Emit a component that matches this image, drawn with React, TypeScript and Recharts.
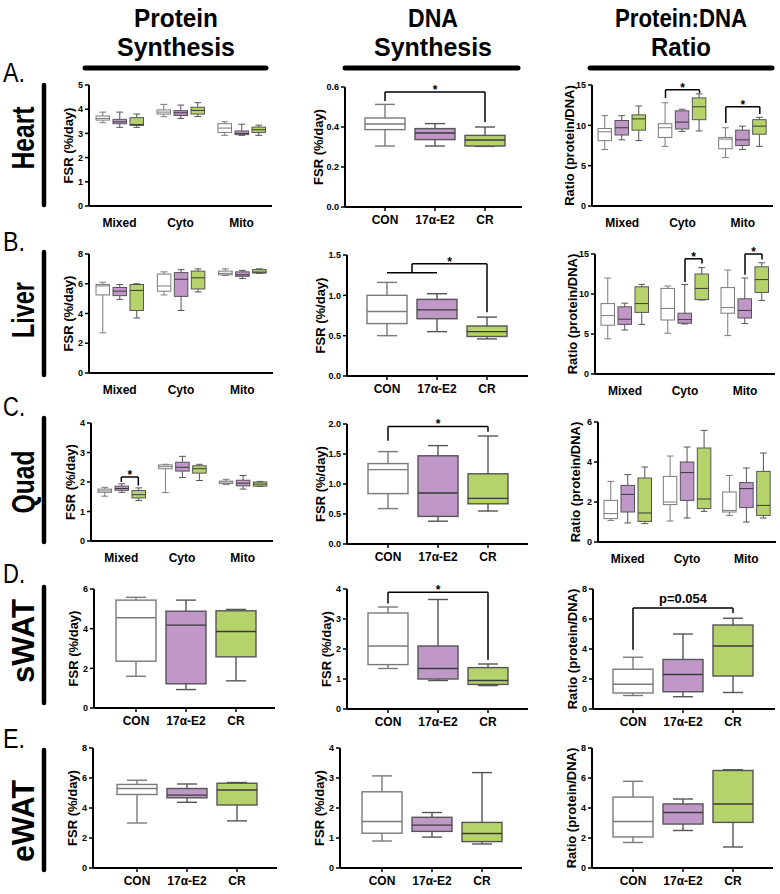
import React from 'react'
import { ComposedChart, Bar, XAxis, YAxis, ReferenceLine, ReferenceDot } from 'recharts'

const groups = ['CON', '17α-E2', 'CR']
const fractions = ['Mixed', 'Cyto', 'Mito']
const groupFill = ['#ffffff', '#bf98c8', '#b6d36b']

// each box: [min, q1, median, q3, max]
// grouped panels: one row per fraction (Mixed, Cyto, Mito), each with CON, 17α-E2, CR
const heartProtein = [
  [[3.44, 3.55, 3.62, 3.72, 3.88], [3.25, 3.4, 3.48, 3.58, 3.88], [3.25, 3.33, 3.37, 3.65, 3.8]],
  [[3.69, 3.8, 3.88, 3.97, 4.2], [3.62, 3.74, 3.85, 3.94, 4.17], [3.7, 3.8, 3.95, 4.08, 4.27]],
  [[2.92, 3.04, 3.22, 3.4, 3.48], [2.92, 2.95, 3.0, 3.1, 3.38], [2.92, 3.04, 3.15, 3.26, 3.34]],
]
const heartDNA = [[0.305, 0.387, 0.415, 0.445, 0.513], [0.305, 0.337, 0.37, 0.392, 0.417], [0.303, 0.305, 0.335, 0.358, 0.4]]
const heartRatio = [
  [[7.0, 8.1, 9.2, 9.6, 11.2], [8.2, 8.8, 9.7, 10.6, 11.2], [8.1, 9.4, 10.8, 11.3, 12.4]],
  [[7.4, 8.5, 9.7, 10.2, 12.8], [9.25, 9.55, 10.4, 11.8, 12.0], [9.3, 10.7, 12.3, 13.4, 13.9]],
  [[6.0, 7.1, 8.3, 8.5, 9.7], [7.0, 7.5, 8.2, 9.4, 9.9], [7.4, 8.9, 9.9, 10.7, 11.0]],
]
const liverProtein = [
  [[2.7, 5.25, 5.85, 5.95, 6.1], [4.95, 5.2, 5.5, 5.75, 5.95], [3.7, 4.2, 5.55, 5.95, 6.0]],
  [[5.25, 5.5, 5.85, 6.65, 6.8], [4.2, 5.15, 6.3, 6.75, 6.95], [5.45, 5.65, 6.4, 6.85, 7.0]],
  [[6.55, 6.6, 6.7, 6.85, 7.0], [6.35, 6.5, 6.6, 6.8, 6.9], [6.7, 6.72, 6.78, 6.95, 7.0]],
]
const liverDNA = [[0.5, 0.65, 0.8, 1.0, 1.16], [0.55, 0.71, 0.82, 0.95, 1.02], [0.46, 0.49, 0.55, 0.62, 0.73]]
const liverRatio = [
  [[4.4, 6.1, 7.3, 8.8, 12.0], [5.5, 6.2, 6.85, 8.4, 8.85], [6.2, 7.7, 8.8, 10.9, 11.2]],
  [[5.1, 6.75, 8.2, 10.7, 11.0], [6.25, 6.35, 6.8, 7.6, 11.2], [9.25, 9.3, 10.7, 12.5, 13.3]],
  [[4.8, 7.6, 8.3, 10.8, 13.0], [6.3, 7.0, 7.95, 9.4, 12.0], [9.2, 10.2, 11.8, 13.4, 13.9]],
]
const quadProtein = [
  [[1.52, 1.65, 1.7, 1.76, 1.82], [1.65, 1.72, 1.78, 1.86, 1.94], [1.37, 1.46, 1.57, 1.71, 1.8]],
  [[1.64, 2.45, 2.52, 2.58, 2.6], [2.15, 2.37, 2.5, 2.67, 2.87], [2.05, 2.3, 2.45, 2.55, 2.6]],
  [[1.91, 1.95, 2.0, 2.03, 2.09], [1.76, 1.87, 1.96, 2.06, 2.22], [1.85, 1.86, 1.93, 2.0, 2.02]],
]
const quadDNA = [[0.59, 0.84, 1.24, 1.34, 1.54], [0.38, 0.46, 0.85, 1.47, 1.64], [0.55, 0.67, 0.76, 1.17, 1.8]]
const quadRatio = [
  [[1.08, 1.17, 1.42, 2.08, 3.03], [0.95, 1.5, 2.38, 2.83, 3.37], [0.92, 1.03, 1.45, 3.2, 3.75]],
  [[1.05, 1.87, 2.0, 3.28, 4.3], [1.2, 2.08, 3.47, 4.0, 4.75], [1.53, 1.67, 2.15, 4.7, 5.58]],
  [[1.33, 1.5, 1.58, 2.5, 3.33], [1.0, 1.72, 2.67, 2.97, 3.7], [1.2, 1.33, 1.83, 3.53, 4.45]],
]
const swatProtein = [[1.6, 2.36, 4.55, 5.44, 5.58], [0.93, 1.22, 4.18, 4.88, 5.44], [1.37, 2.58, 3.86, 4.9, 4.97]]
const swatDNA = [[1.35, 1.48, 2.1, 3.2, 3.4], [0.95, 1.0, 1.35, 2.1, 3.65], [0.78, 0.82, 0.95, 1.38, 1.5]]
const swatRatio = [[0.9, 1.07, 1.65, 2.65, 3.45], [0.82, 1.15, 2.3, 3.3, 5.0], [1.1, 2.2, 4.2, 5.6, 6.05]]
const ewatProtein = [[3.0, 4.9, 5.3, 5.57, 5.85], [4.38, 4.68, 4.86, 5.3, 5.6], [3.14, 4.2, 5.2, 5.65, 5.7]]
const ewatDNA = [[0.9, 1.16, 1.55, 2.54, 3.07], [1.03, 1.22, 1.43, 1.69, 1.85], [0.8, 0.88, 1.15, 1.52, 3.18]]
const ewatRatio = [[1.7, 2.07, 3.1, 4.73, 5.78], [2.5, 2.93, 3.7, 4.27, 4.6], [1.4, 3.04, 4.27, 6.5, 6.55]]

// y ticks
const ticks0to5 = [0, 1, 2, 3, 4, 5]
const ticksHeartDNA = [0, 0.2, 0.4, 0.6]
const ticksRatio15 = [0, 5, 10, 15]
const ticks0to8 = [0, 2, 4, 6, 8]
const ticksLiverDNA = [0, 0.5, 1.0, 1.5]
const ticks0to4 = [0, 1, 2, 3, 4]
const ticksQuadDNA = [0, 0.5, 1.0, 1.5, 2.0]
const ticks0to6 = [0, 2, 4, 6]

// significance brackets: f = category/fraction index, g = group inside a fraction
type Pt = { f: number; g?: number; y: number }
type Bracket = { lines: Pt[][]; label: string; at: Pt }
const heartDNABr: Bracket[] = [
  { lines: [[{ f: 0, y: 0.53 }, { f: 0, y: 0.575 }, { f: 2, y: 0.575 }, { f: 2, y: 0.425 }]], label: '*', at: { f: 1, y: 0.575 } },
]
const heartRatioBr: Bracket[] = [
  { lines: [[{ f: 1, g: 0, y: 13.4 }, { f: 1, g: 0, y: 14.4 }, { f: 1, g: 2, y: 14.4 }, { f: 1, g: 2, y: 14.0 }]], label: '*', at: { f: 1, g: 1, y: 14.4 } },
  { lines: [[{ f: 2, g: 0, y: 10.3 }, { f: 2, g: 0, y: 12.3 }, { f: 2, g: 2, y: 12.3 }, { f: 2, g: 2, y: 11.4 }]], label: '*', at: { f: 2, g: 1, y: 12.3 } },
]
const liverDNABr: Bracket[] = [
  {
    lines: [
      [{ f: 0, y: 1.28 }, { f: 1, y: 1.28 }],
      [{ f: 0.5, y: 1.28 }, { f: 0.5, y: 1.39 }, { f: 2, y: 1.39 }, { f: 2, y: 0.79 }],
    ],
    label: '*',
    at: { f: 1.25, y: 1.39 },
  },
]
const liverRatioBr: Bracket[] = [
  { lines: [[{ f: 1, g: 1, y: 11.5 }, { f: 1, g: 1, y: 14.4 }, { f: 1, g: 2, y: 14.4 }, { f: 1, g: 2, y: 13.8 }]], label: '*', at: { f: 1, g: 1.5, y: 14.4 } },
  { lines: [[{ f: 2, g: 1, y: 12.4 }, { f: 2, g: 1, y: 15 }, { f: 2, g: 2, y: 15 }, { f: 2, g: 2, y: 14.3 }]], label: '*', at: { f: 2, g: 1.5, y: 15 } },
]
const quadProteinBr: Bracket[] = [
  { lines: [[{ f: 0, g: 1, y: 2.0 }, { f: 0, g: 1, y: 2.17 }, { f: 0, g: 2, y: 2.17 }, { f: 0, g: 2, y: 1.88 }]], label: '*', at: { f: 0, g: 1.5, y: 2.17 } },
]
const quadDNABr: Bracket[] = [
  { lines: [[{ f: 0, y: 1.72 }, { f: 0, y: 1.96 }, { f: 2, y: 1.96 }, { f: 2, y: 1.87 }]], label: '*', at: { f: 1, y: 1.96 } },
]
const swatDNABr: Bracket[] = [
  { lines: [[{ f: 0, y: 3.52 }, { f: 0, y: 3.89 }, { f: 2, y: 3.89 }, { f: 2, y: 1.64 }]], label: '*', at: { f: 1, y: 3.89 } },
]
const swatRatioBr: Bracket[] = [
  { lines: [[{ f: 0, y: 3.95 }, { f: 0, y: 6.73 }, { f: 2, y: 6.73 }, { f: 2, y: 6.4 }]], label: 'p=0.054', at: { f: 1, y: 6.73 } },
]

const AX = "'Liberation Sans', Arial, sans-serif"
const NARROW = "'Liberation Sans Narrow', 'Arial Narrow', 'Liberation Sans', Arial, sans-serif"

const Y_W = 46
const TOP_M = 12
const X_H = 30
const GBAR = 13.5
const GGAP = 3.5

function boxShape(getBox: (p: any) => number[], getColor: (p: any) => number, capRatio: number, lw: number) {
  return (props: any) => {
    const { x, y, width, height, payload } = props
    const b = getBox(payload)
    const ci = getColor(payload)
    const py = (v: number) => y + ((b[4] - v) / (b[4] - b[0])) * height
    const cx = x + width / 2
    const cap = (width * capRatio) / 2
    const stroke = ci === 0 ? '#7a7a7a' : '#555'
    const med = ci === 0 ? '#7a7a7a' : '#3a3a3a'
    return (
      <g>
        <line x1={cx} x2={cx} y1={py(b[4])} y2={py(b[3])} stroke={stroke} strokeWidth={lw} />
        <line x1={cx} x2={cx} y1={py(b[1])} y2={py(b[0])} stroke={stroke} strokeWidth={lw} />
        <line x1={cx - cap} x2={cx + cap} y1={py(b[4])} y2={py(b[4])} stroke={stroke} strokeWidth={lw} />
        <line x1={cx - cap} x2={cx + cap} y1={py(b[0])} y2={py(b[0])} stroke={stroke} strokeWidth={lw} />
        <rect x={x} y={py(b[3])} width={width} height={py(b[1]) - py(b[3])} fill={groupFill[ci]} stroke={stroke} strokeWidth={lw} />
        <line x1={x} x2={x + width} y1={py(b[2])} y2={py(b[2])} stroke={med} strokeWidth={lw} />
      </g>
    )
  }
}

type PanelProps = {
  axisX: number
  top: number
  bottom: number
  right: number
  yMax: number
  ticks: number[]
  decimals: number
  yLabel: string
  labelGap: number
  grouped?: number[][][]
  simple?: number[][]
  padL?: number
  padR?: number
  brackets?: Bracket[]
}

function Panel(p: PanelProps) {
  const H = p.bottom - p.top
  const W = p.right - p.axisX
  const padL = p.padL ?? 0
  const padR = p.padR ?? 0
  const band = (W - padL - padR) / 3
  const gOff = p.grouped ? (GBAR + GGAP) / band : 0
  const pos = (pt: Pt) => pt.f + ((pt.g ?? 1) - 1) * gOff

  const data = p.grouped
    ? fractions.map((name, i) => ({ name, pos: i, boxes: p.grouped![i] }))
    : groups.map((name, i) => ({ name, pos: i, box: p.simple![i], idx: i }))

  const tickStyle = { fontSize: 9, fontWeight: 700, fill: '#000', fontFamily: AX }
  const xTickStyle = { fontSize: 12, fontWeight: 700, fill: '#000', fontFamily: AX }

  return (
    <div style={{ position: 'absolute', left: p.axisX - Y_W, top: p.top - TOP_M }}>
      <ComposedChart
        width={Y_W + W + 6}
        height={TOP_M + H + X_H}
        data={data}
        margin={{ top: TOP_M, right: 6, bottom: 0, left: 0 }}
        barGap={GGAP}
        barSize={p.grouped ? GBAR : 40}
      >
        <XAxis
          xAxisId="c"
          dataKey="name"
          type="category"
          height={X_H}
          padding={{ left: padL, right: padR }}
          axisLine={{ stroke: '#000', strokeWidth: 2 }}
          tickLine={p.grouped ? false : { stroke: '#000', strokeWidth: 1.5 }}
          tickSize={4}
          tickMargin={p.grouped ? 8 : 4}
          tick={xTickStyle}
          interval={0}
        />
        <XAxis
          xAxisId="n"
          dataKey="pos"
          type="number"
          domain={[-0.5, 2.5]}
          allowDataOverflow
          padding={{ left: padL, right: padR }}
          hide
        />
        <YAxis
          width={Y_W}
          domain={[0, p.yMax]}
          ticks={p.ticks}
          interval={0}
          allowDataOverflow
          axisLine={{ stroke: '#000', strokeWidth: 2 }}
          tickLine={{ stroke: '#000', strokeWidth: 1.5 }}
          tickSize={4}
          tickMargin={2}
          tick={tickStyle}
          tickFormatter={(v: number) => v.toFixed(p.decimals)}
        />
        {p.grouped
          ? [0, 1, 2].map((k) => (
              <Bar
                key={k}
                xAxisId="c"
                dataKey={(d: any) => [d.boxes[k][0], d.boxes[k][4]]}
                isAnimationActive={false}
                shape={boxShape((d) => d.boxes[k], () => k, 0.5, 1)}
              />
            ))
          : (
              <Bar
                xAxisId="c"
                dataKey={(d: any) => [d.box[0], d.box[4]]}
                isAnimationActive={false}
                shape={boxShape((d) => d.box, (d) => d.idx, 0.5, 1.4)}
              />
            )}
        {(p.brackets ?? []).flatMap((br, bi) =>
          br.lines.flatMap((path, li) =>
            path.slice(1).map((pt, si) => (
              <ReferenceLine
                key={`l${bi}-${li}-${si}`}
                xAxisId="n"
                ifOverflow="visible"
                stroke="#000"
                strokeWidth={1.5}
                segment={[
                  { x: pos(path[si]), y: path[si].y },
                  { x: pos(pt), y: pt.y },
                ]}
              />
            ))
          )
        )}
        {(p.brackets ?? []).map((br, bi) => (
          <ReferenceDot
            key={`d${bi}`}
            xAxisId="n"
            x={pos(br.at)}
            y={br.at.y}
            ifOverflow="visible"
            shape={(sp: any) => (
              <text
                x={sp.cx}
                y={br.label === '*' ? sp.cy + 2 : sp.cy - 5}
                textAnchor="middle"
                fontSize={br.label === '*' ? 12 : 13}
                fontWeight={700}
                fontFamily={AX}
                fill="#000"
              >
                {br.label}
              </text>
            )}
          />
        ))}
      </ComposedChart>
      <svg
        width={Y_W}
        height={TOP_M + H}
        style={{ position: 'absolute', left: 0, top: 0, pointerEvents: 'none' }}
      >
        <text
          x={Y_W - p.labelGap}
          y={TOP_M + H / 2}
          transform={`rotate(-90 ${Y_W - p.labelGap} ${TOP_M + H / 2})`}
          textAnchor="middle"
          dominantBaseline="central"
          fontSize={13}
          fontWeight={700}
          fontFamily={AX}
          fill="#000"
        >
          {p.yLabel}
        </text>
      </svg>
    </div>
  )
}

const headings = [
  { lines: ['Protein', 'Synthesis'], widths: [84, 118], cx: 176, x1: 85, x2: 266 },
  { lines: ['DNA', 'Synthesis'], widths: [50, 118], cx: 433, x1: 345, x2: 518 },
  { lines: ['Protein:DNA', 'Ratio'], widths: [132, 60], cx: 681, x1: 590, x2: 772 },
]
const rows = [
  { letter: 'A.', ly: 72, name: 'Heart', len: 63, ny: 138, y1: 85, y2: 205 },
  { letter: 'B.', ly: 241, name: 'Liver', len: 56, ny: 310, y1: 252, y2: 375 },
  { letter: 'C.', ly: 406, name: 'Quad', len: 63, ny: 482, y1: 418, y2: 542 },
  { letter: 'D.', ly: 573, name: 'sWAT', len: 84, ny: 641, y1: 587, y2: 703 },
  { letter: 'E.', ly: 738, name: 'eWAT', len: 82, ny: 821, y1: 750, y2: 870 },
]

export default function App() {
  const fsr = 'FSR (%/day)'
  const ratio = 'Ratio (protein/DNA)'
  return (
    <div style={{ position: 'absolute', left: 0, top: 0, width: 780, height: 894, background: '#fff', overflow: 'hidden' }}>
      <svg width={780} height={894} style={{ position: 'absolute', left: 0, top: 0 }}>
        {headings.map((h) => (
          <g key={h.cx}>
            {h.lines.map((t, i) => (
              <text
                key={t}
                x={h.cx - h.widths[i] / 2}
                y={27 + i * 29}
                textLength={h.widths[i]}
                lengthAdjust="spacingAndGlyphs"
                fontSize={26}
                fontWeight={700}
                fontFamily={NARROW}
                fill="#000"
              >
                {t}
              </text>
            ))}
            <line x1={h.x1} x2={h.x2} y1={68} y2={68} stroke="#000" strokeWidth={5} strokeLinecap="round" />
          </g>
        ))}
        {rows.map((r) => (
          <g key={r.name}>
            <text x={3} y={r.ly + 10} fontSize={27} fontFamily={NARROW} fill="#000" textLength={22} lengthAdjust="spacingAndGlyphs">
              {r.letter}
            </text>
            <g transform={`rotate(-90 23 ${r.ny})`}>
              <text
                x={23 - r.len / 2}
                y={r.ny + 11}
                textLength={r.len}
                lengthAdjust="spacingAndGlyphs"
                fontSize={31}
                fontWeight={700}
                fontFamily={NARROW}
                fill="#000"
              >
                {r.name}
              </text>
            </g>
            <line x1={44} x2={44} y1={r.y1} y2={r.y2} stroke="#000" strokeWidth={4.5} strokeLinecap="round" />
          </g>
        ))}
      </svg>

      <Panel axisX={89} top={85} bottom={206} right={272} yMax={5} ticks={ticks0to5} decimals={0} yLabel={fsr} labelGap={21} grouped={heartProtein} />
      <Panel axisX={345} top={87} bottom={207} right={522} yMax={0.6} ticks={ticksHeartDNA} decimals={1} yLabel={fsr} labelGap={27} simple={heartDNA} padL={15} padR={12} brackets={heartDNABr} />
      <Panel axisX={592} top={85} bottom={206} right={773} yMax={15} ticks={ticksRatio15} decimals={0} yLabel={ratio} labelGap={23} grouped={heartRatio} brackets={heartRatioBr} />

      <Panel axisX={89} top={254} bottom={373} right={273} yMax={8} ticks={ticks0to8} decimals={0} yLabel={fsr} labelGap={21} grouped={liverProtein} />
      <Panel axisX={347} top={255} bottom={376} right={528} yMax={1.5} ticks={ticksLiverDNA} decimals={1} yLabel={fsr} labelGap={27} simple={liverDNA} padL={15} padR={16} brackets={liverDNABr} />
      <Panel axisX={595} top={254} bottom={374} right={775} yMax={15} ticks={ticksRatio15} decimals={0} yLabel={ratio} labelGap={23} grouped={liverRatio} brackets={liverRatioBr} />

      <Panel axisX={91} top={423} bottom={541} right={273} yMax={4} ticks={ticks0to4} decimals={0} yLabel={fsr} labelGap={21} grouped={quadProtein} brackets={quadProteinBr} />
      <Panel axisX={347} top={424} bottom={544} right={528} yMax={2} ticks={ticksQuadDNA} decimals={1} yLabel={fsr} labelGap={27} simple={quadDNA} padL={16} padR={15} brackets={quadDNABr} />
      <Panel axisX={598} top={422} bottom={542} right={776} yMax={6} ticks={ticks0to6} decimals={0} yLabel={ratio} labelGap={23} grouped={quadRatio} />

      <Panel axisX={94} top={589} bottom={708} right={275} yMax={6} ticks={ticks0to6} decimals={0} yLabel={fsr} labelGap={21} simple={swatProtein} padL={17} padR={14} />
      <Panel axisX={347} top={589} bottom={709} right={528} yMax={4} ticks={ticks0to4} decimals={0} yLabel={fsr} labelGap={21} simple={swatDNA} padL={16} padR={15} brackets={swatDNABr} />
      <Panel axisX={593} top={589} bottom={709} right={775} yMax={8} ticks={ticks0to8} decimals={0} yLabel={ratio} labelGap={21} simple={swatRatio} padL={15} padR={17} brackets={swatRatioBr} />

      <Panel axisX={93} top={748} bottom={868} right={277} yMax={8} ticks={ticks0to8} decimals={0} yLabel={fsr} labelGap={21} simple={ewatProtein} padL={19} padR={15} />
      <Panel axisX={340} top={748} bottom={868} right={522} yMax={4} ticks={ticks0to4} decimals={0} yLabel={fsr} labelGap={21} simple={ewatDNA} padL={17} padR={15} />
      <Panel axisX={592} top={748} bottom={868} right={773} yMax={8} ticks={ticks0to8} decimals={0} yLabel={ratio} labelGap={21} simple={ewatRatio} padL={16} padR={15} />
    </div>
  )
}
